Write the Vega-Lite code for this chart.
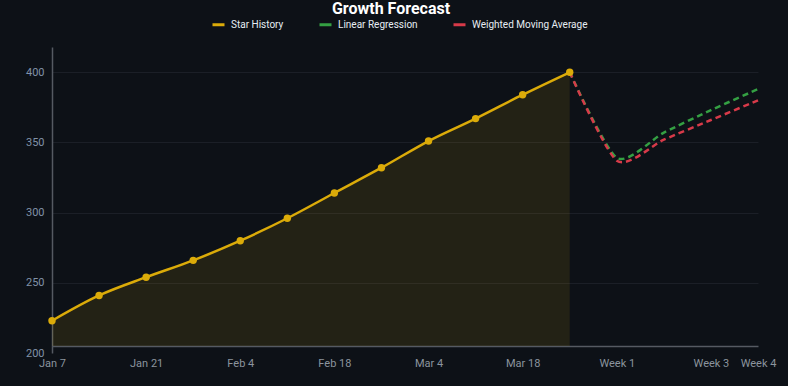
{
  "$schema": "https://vega.github.io/schema/vega-lite/v6.json",
  "width": 706,
  "height": 306,
  "autosize": {"type": "none"},
  "padding": {"left": 52, "top": 47, "right": 30, "bottom": 33},
  "background": "#0d1117",
  "title": {
    "text": "Growth Forecast",
    "anchor": "middle",
    "dx": -14,
    "offset": 0,
    "fontSize": 16,
    "fontWeight": "bold",
    "font": "Roboto",
    "color": "#ffffff"
  },
  "data": {
    "values": [
      {"label": "Jan 7", "series": "Star History", "value": 223},
      {"label": "Jan 14", "series": "Star History", "value": 241},
      {"label": "Jan 21", "series": "Star History", "value": 254},
      {"label": "Jan 28", "series": "Star History", "value": 266},
      {"label": "Feb 4", "series": "Star History", "value": 280},
      {"label": "Feb 11", "series": "Star History", "value": 296},
      {"label": "Feb 18", "series": "Star History", "value": 314},
      {"label": "Feb 25", "series": "Star History", "value": 332},
      {"label": "Mar 4", "series": "Star History", "value": 351},
      {"label": "Mar 11", "series": "Star History", "value": 367},
      {"label": "Mar 18", "series": "Star History", "value": 384},
      {"label": "Mar 25", "series": "Star History", "value": 400},
      {"label": "Mar 25", "series": "Linear Regression", "value": 400},
      {"label": "Week 1", "series": "Linear Regression", "value": 339},
      {"label": "Week 2", "series": "Linear Regression", "value": 357},
      {"label": "Week 3", "series": "Linear Regression", "value": 373},
      {"label": "Week 4", "series": "Linear Regression", "value": 388},
      {"label": "Mar 25", "series": "Weighted Moving Average", "value": 400},
      {"label": "Week 1", "series": "Weighted Moving Average", "value": 337},
      {"label": "Week 2", "series": "Weighted Moving Average", "value": 352},
      {"label": "Week 3", "series": "Weighted Moving Average", "value": 366},
      {"label": "Week 4", "series": "Weighted Moving Average", "value": 380}
    ]
  },
  "encoding": {
    "x": {
      "field": "label",
      "type": "ordinal",
      "scale": {
        "type": "point",
        "padding": 0,
        "domain": ["Jan 7", "Jan 14", "Jan 21", "Jan 28", "Feb 4", "Feb 11", "Feb 18", "Feb 25", "Mar 4", "Mar 11", "Mar 18", "Mar 25", "Week 1", "Week 2", "Week 3", "Week 4"]
      },
      "axis": {
        "title": null,
        "values": ["Jan 7", "Jan 21", "Feb 4", "Feb 18", "Mar 4", "Mar 18", "Week 1", "Week 3", "Week 4"],
        "labelAngle": 0,
        "ticks": false,
        "grid": false,
        "offset": -7,
        "labelPadding": 11,
        "domainColor": "#555a62",
        "domainWidth": 1.5,
        "labelColor": "#8b949e",
        "labelFont": "Roboto",
        "labelFontSize": 11
      }
    },
    "y": {
      "field": "value",
      "type": "quantitative",
      "scale": {"domain": [200, 418], "zero": false, "nice": false},
      "axis": {
        "title": null,
        "values": [200, 250, 300, 350, 400],
        "ticks": false,
        "labelPadding": 8,
        "grid": true,
        "gridColor": "#1b1f27",
        "gridOpacity": {"condition": {"test": "datum.value === 200", "value": 0}, "value": 1},
        "domainColor": "#555a62",
        "domainWidth": 1.5,
        "labelColor": "#8192a8",
        "labelFont": "Roboto",
        "labelFontSize": 11
      }
    }
  },
  "layer": [
    {
      "transform": [{"filter": "datum.series === 'Star History'"}],
      "mark": {"type": "area", "color": "#dbab09", "opacity": 0.11, "interpolate": "monotone"},
      "encoding": {"y2": {"datum": 205}}
    },
    {
      "transform": [{"filter": "datum.series === 'Linear Regression'"}],
      "mark": {"type": "line", "strokeWidth": 2.5, "interpolate": "cardinal", "tension": 0.3, "strokeDash": [6, 4]},
      "encoding": {
        "color": {"field": "series", "type": "nominal"}
      }
    },
    {
      "transform": [{"filter": "datum.series === 'Weighted Moving Average'"}],
      "mark": {"type": "line", "strokeWidth": 2.5, "interpolate": "cardinal", "tension": 0.3, "strokeDash": [6, 4]},
      "encoding": {"color": {"field": "series", "type": "nominal"}}
    },
    {
      "transform": [{"filter": "datum.series === 'Star History'"}],
      "mark": {"type": "line", "strokeWidth": 2.5, "interpolate": "monotone", "point": {"filled": true, "size": 55, "opacity": 1}},
      "encoding": {
        "color": {
          "field": "series",
          "type": "nominal",
          "scale": {
            "domain": ["Star History", "Linear Regression", "Weighted Moving Average"],
            "range": ["#dbab09", "#34a043", "#d73a49"]
          }
        }
      }
    }
  ],
  "resolve": {"scale": {"color": "shared"}},
  "config": {
    "view": {"stroke": null},
    "legend": {
      "orient": "none",
      "legendX": 159,
      "legendY": -30,
      "direction": "horizontal",
      "title": null,
      "symbolType": "stroke",
      "symbolSize": 144,
      "symbolStrokeWidth": 3,
      "labelColor": "#e6edf3",
      "labelFont": "Roboto",
      "labelFontSize": 10,
      "labelOffset": 5,
      "columnPadding": 29
    }
  }
}
